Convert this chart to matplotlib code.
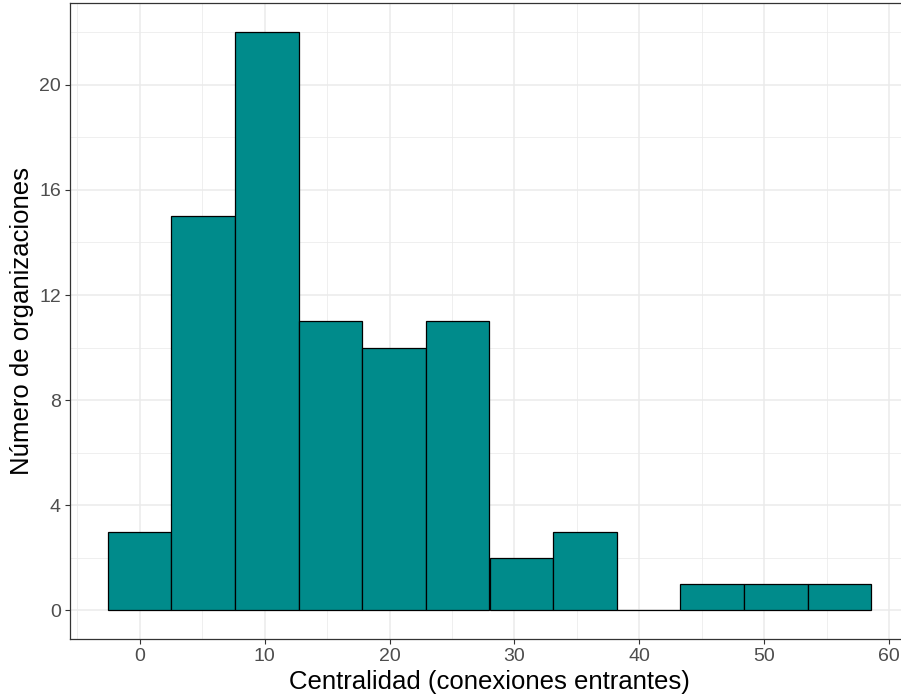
import numpy as np
import matplotlib
matplotlib.use("Agg")
import matplotlib.pyplot as plt

# Data
bin_centers = [0.0, 5.0909, 10.1818, 15.2727, 20.3636, 25.4545, 30.5455, 35.6364,
               40.7273, 45.8182, 50.9091, 56.0]
counts = [3, 15, 22, 11, 10, 11, 2, 3, 0, 1, 1, 1]
binwidth = 56.0 / 11
x_ticks = [0, 10, 20, 30, 40, 50, 60]
y_ticks = [0, 4, 8, 12, 16, 20]
x_label = "Centralidad (conexiones entrantes)"
y_label = "Número de organizaciones"

plt.rcParams['font.family'] = ['Liberation Sans', 'DejaVu Sans']

fig = plt.figure(figsize=(9.01, 7.0), dpi=100)
ax = fig.add_axes([69.7 / 901, (700 - 639.3) / 700, (909.3 - 69.7) / 901, (639.3 - 3.3) / 700])

ax.bar(bin_centers, counts, width=binwidth, color='#008B8B', edgecolor='black',
       linewidth=0.9, zorder=3)

left = bin_centers[0] - binwidth / 2
right = bin_centers[-1] + binwidth / 2
pad = (right - left) * 0.05
ax.set_xlim(left - pad, right + pad)
ypad = max(counts) * 0.05
ax.set_ylim(-ypad, max(counts) + ypad)

ax.set_xticks(x_ticks)
ax.set_yticks(y_ticks)
ax.set_xticks([-5, 5, 15, 25, 35, 45, 55], minor=True)
ax.set_yticks([2, 6, 10, 14, 18, 22], minor=True)

ax.grid(which='major', color='#EBEBEB', linewidth=1.1, zorder=0)
ax.grid(which='minor', color='#EBEBEB', linewidth=0.55, zorder=0)
ax.set_axisbelow(True)

ax.tick_params(which='major', length=3.8, width=0.8, color='#333333',
               labelcolor='#4D4D4D', labelsize=14, pad=2.5)
ax.tick_params(which='minor', length=0)

for s in ax.spines.values():
    s.set_color('#333333')
    s.set_linewidth(0.9)

ax.set_xlabel(x_label, fontsize=18.5, color='black', va='center')
ax.xaxis.set_label_coords(0.5, -(681.7 - 639.3) / 636)
ax.set_ylabel(y_label, fontsize=18.5, color='black', va='center')
ax.yaxis.set_label_coords(-(69.7 - 22) / 839.6, 0.5)

fig.savefig('out.png', dpi=100)
